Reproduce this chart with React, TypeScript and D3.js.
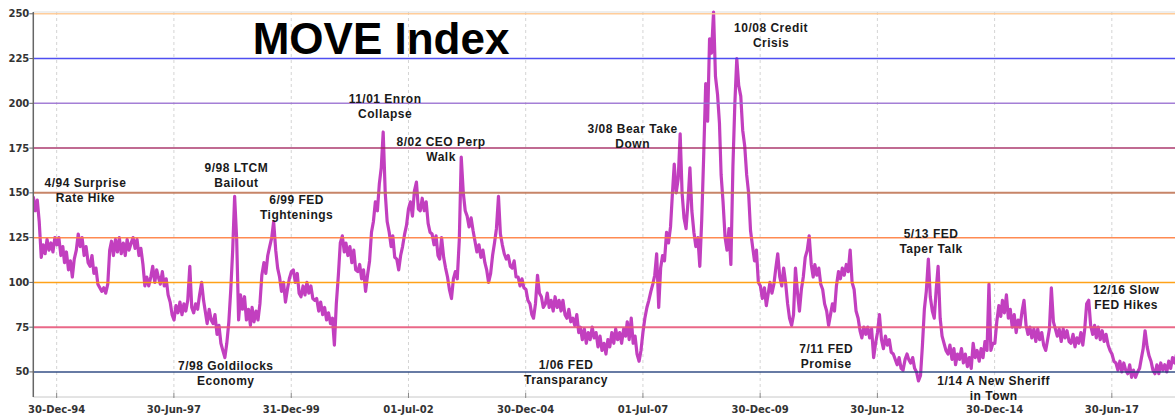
import React from "react";
import * as d3 from "d3";

// Semi-monthly MOVE index readings (1st and 16th of each month)
const move1994 = [148, 140, 146, 134, 114, 121, 116, 124, 118, 122, 117, 125]; // from July
const move1995 = [121, 125, 115, 120, 111, 117, 107, 112, 103, 113, 118, 127, 120, 125, 115, 120, 111, 109, 115, 105, 108, 99, 97, 95];
const move1996 = [97, 94, 99, 118, 123, 115, 124, 117, 125, 116, 122, 115, 124, 118, 122, 125, 119, 124, 115, 119, 110, 98, 103, 98];
const move1997 = [103, 109, 100, 107, 103, 99, 106, 98, 102, 93, 89, 82, 79, 87, 83, 89, 82, 88, 84, 90, 109, 86, 83, 88];
const move1998 = [85, 93, 100, 90, 84, 77, 85, 79, 77, 82, 71, 76, 66, 62, 58, 66, 78, 96, 118, 148, 124, 79, 93, 85];
const move1999 = [92, 79, 85, 76, 86, 78, 84, 79, 88, 104, 111, 105, 115, 120, 125, 134, 118, 108, 103, 95, 100, 89, 96, 102];
const move2000 = [106, 107, 100, 105, 94, 92, 98, 93, 100, 94, 98, 91, 90, 91, 84, 89, 82, 86, 79, 83, 77, 80, 65, 88];
const move2001 = [104, 122, 126, 117, 122, 115, 120, 111, 118, 107, 106, 110, 102, 107, 95, 104, 112, 128, 134, 145, 140, 155, 164, 184];
const move2002 = [150, 134, 128, 120, 126, 114, 113, 107, 115, 120, 127, 132, 141, 145, 137, 151, 156, 141, 140, 147, 140, 145, 133, 128];
const move2003 = [127, 121, 126, 115, 113, 125, 114, 108, 103, 96, 91, 102, 106, 102, 124, 170, 150, 140, 137, 131, 136, 129, 123, 117];
const move2004 = [121, 114, 118, 111, 107, 100, 105, 115, 122, 130, 148, 127, 121, 116, 113, 115, 109, 108, 112, 103, 103, 98, 102, 97];
const move2005 = [96, 90, 88, 82, 80, 88, 104, 94, 92, 86, 88, 94, 86, 90, 84, 92, 86, 90, 84, 90, 82, 80, 85, 78];
const move2006 = [80, 76, 82, 72, 75, 68, 74, 66, 72, 68, 75, 69, 72, 64, 70, 62, 66, 60, 68, 64, 72, 66, 74, 68];
const move2007 = [72, 66, 74, 70, 78, 68, 80, 66, 70, 60, 56, 62, 72, 80, 86, 90, 95, 99, 104, 116, 86, 108, 115, 112];
const move2008 = [128, 122, 131, 150, 166, 150, 158, 183, 150, 136, 130, 145, 164, 140, 128, 120, 125, 109, 135, 170, 211, 190, 236, 228];
const move2009 = [251, 215, 205, 189, 160, 145, 125, 118, 130, 110, 165, 200, 225, 210, 204, 185, 176, 160, 150, 129, 120, 112, 118, 100];
const move2010 = [98, 91, 97, 87, 93, 100, 94, 99, 108, 116, 103, 98, 108, 100, 88, 80, 76, 82, 108, 95, 84, 96, 103, 114];
const move2011 = [118, 126, 110, 103, 110, 104, 108, 99, 96, 88, 84, 76, 82, 88, 84, 98, 106, 102, 108, 104, 110, 106, 118, 100];
const move2012 = [96, 84, 80, 73, 69, 75, 71, 75, 69, 74, 58, 66, 72, 82, 68, 63, 70, 65, 68, 61, 60, 57, 54, 58];
const move2013 = [52, 51, 57, 60, 57, 55, 58, 52, 50, 45, 48, 65, 85, 95, 113, 92, 84, 80, 96, 109, 80, 70, 66, 62];
const move2014 = [60, 65, 57, 63, 54, 60, 57, 63, 55, 60, 53, 58, 52, 66, 58, 62, 56, 63, 58, 67, 62, 99, 62, 66];
const move2015 = [66, 78, 87, 81, 90, 83, 93, 80, 85, 75, 82, 72, 79, 75, 84, 90, 76, 71, 75, 69, 74, 67, 74, 68];
const move2016 = [72, 65, 62, 68, 74, 97, 78, 74, 70, 74, 67, 74, 69, 73, 67, 66, 71, 64, 69, 66, 72, 65, 74, 88];
const move2017 = [90, 76, 71, 76, 69, 75, 68, 73, 67, 71, 65, 62, 60, 56, 55, 51, 56, 50, 55, 51, 49, 54, 47, 51];
const move2018 = [47, 50, 52, 58, 63, 73, 64, 59, 56, 51, 49, 54, 49, 55, 51, 54, 50, 56, 52, 58, 55, 60, 57];

const yearBlocks: [number, number, number[]][] = [
  [1994, 6, move1994], [1995, 0, move1995], [1996, 0, move1996], [1997, 0, move1997],
  [1998, 0, move1998], [1999, 0, move1999], [2000, 0, move2000], [2001, 0, move2001],
  [2002, 0, move2002], [2003, 0, move2003], [2004, 0, move2004], [2005, 0, move2005],
  [2006, 0, move2006], [2007, 0, move2007], [2008, 0, move2008], [2009, 0, move2009],
  [2010, 0, move2010], [2011, 0, move2011], [2012, 0, move2012], [2013, 0, move2013],
  [2014, 0, move2014], [2015, 0, move2015], [2016, 0, move2016], [2017, 0, move2017],
  [2018, 0, move2018],
];

const xTickDates = ["1994-12-30", "1997-06-30", "1999-12-31", "2002-07-01", "2004-12-30", "2007-07-01", "2009-12-30", "2012-06-30", "2014-12-30", "2017-06-30"];
const xTickLabels = ["30-Dec-94", "30-Jun-97", "31-Dec-99", "01-Jul-02", "30-Dec-04", "01-Jul-07", "30-Dec-09", "30-Jun-12", "30-Dec-14", "30-Jun-17"];
const yTicks = [50, 75, 100, 125, 150, 175, 200, 225, 250];
const yGridColors = ["#1f3d7a", "#e8587c", "#ff9900", "#ff7f40", "#c27858", "#a3245f", "#9b72d2", "#3c3cf0", "#ffc890"];

const annLines = [
  ["4/94 Surprise", "Rate Hike"],
  ["9/98 LTCM", "Bailout"],
  ["6/99 FED", "Tightenings"],
  ["11/01 Enron", "Collapse"],
  ["8/02 CEO Perp", "Walk"],
  ["3/08 Bear Take", "Down"],
  ["10/08 Credit", "Crisis"],
  ["7/98 Goldilocks", "Economy"],
  ["1/06 FED", "Transparancy"],
  ["7/11 FED", "Promise"],
  ["5/13 FED", "Taper Talk"],
  ["1/14 A New Sheriff", "in Town"],
  ["12/16 Slow", "FED Hikes"],
];
const annDates = ["1995-08-11", "1998-10-30", "2000-02-11", "2001-12-31", "2003-03-12", "2007-04-12", "2010-03-25", "1998-08-08", "2005-11-09", "2011-05-29", "2013-08-22", "2014-12-23", "2017-10-19"];
const annValues = [153.4, 161.8, 143.6, 200, 176.2, 183.3, 240, 51.1, 51.5, 60.7, 124.6, 42.7, 93.4];

const titleText = "MOVE Index";
const titleDate = "1999-03-06";
const titleValue = 227.5;

const W = 1175;
const H = 415;

export default function App() {
  const parse = (s: string) => new Date(s + "T00:00:00Z");
  const series: { d: Date; v: number }[] = [];
  yearBlocks.forEach(([yr, m0, vals]) => {
    vals.forEach((v, i) => {
      series.push({ d: new Date(Date.UTC(yr, m0 + Math.floor(i / 2), i % 2 ? 16 : 1)), v });
    });
  });

  const x = d3.scaleUtc().domain([parse("1994-07-01"), parse("2018-11-04")]).range([33.3, 1175]);
  const y = d3.scaleLinear().domain([36, 251]).range([397, 12]);

  const line = d3.line<{ d: Date; v: number }>().x((p) => x(p.d)).y((p) => y(p.v));

  const font = "'Liberation Sans', Arial, Helvetica, sans-serif";
  const axisFont = "'DejaVu Sans', Verdana, sans-serif";
  const x0 = x.range()[0];
  const yTop = y.range()[1];
  const yBot = y.range()[0];

  return (
    <svg width={W} height={H} style={{ position: "absolute", left: 0, top: 0, background: "#fff" }}>
      <defs>
        <clipPath id="plot">
          <rect x={x0} y={yTop - 4} width={W - x0} height={yBot - yTop + 4} />
        </clipPath>
      </defs>
      <line x1={x0} x2={W} y1={yTop} y2={yTop} stroke="#dddddd" strokeWidth={1} />
      {xTickDates.map((s, i) => (
        <line key={"vg" + i} x1={x(parse(s))} x2={x(parse(s))} y1={yTop} y2={yBot} stroke="#d4d4d4" strokeWidth={1} strokeDasharray="3,3" />
      ))}
      <path d={line(series) || ""} fill="none" stroke="#c23fbf" strokeWidth={3.2} strokeLinejoin="round" clipPath="url(#plot)" />
      {yTicks.map((t, i) => (
        <line key={"hg" + i} x1={x0} x2={W} y1={y(t)} y2={y(t)} stroke={yGridColors[i]} strokeWidth={t === 150 || t === 75 ? 2 : 1.5} opacity={0.9} />
      ))}
      <line x1={x0} x2={W} y1={yBot} y2={yBot} stroke="#c8c8c8" strokeWidth={1} />
      {xTickDates.map((s, i) => (
        <g key={"xt" + i} transform={`translate(${x(parse(s))},0)`}>
          <line y1={yBot - 4} y2={yBot + 1} stroke="#888" strokeWidth={1} />
          <text y={yBot + 16} textAnchor="middle" fontFamily={axisFont} fontWeight="bold" fontSize={10} fill="#333">
            {xTickLabels[i]}
          </text>
        </g>
      ))}
      <line x1={x0} x2={x0} y1={yTop} y2={yBot} stroke="#666" strokeWidth={1.5} />
      {yTicks.map((t, i) => (
        <g key={"yt" + i} transform={`translate(0,${y(t)})`}>
          <line x1={x0 - 4} x2={x0} stroke="#666" strokeWidth={1} />
          <text x={x0 - 4} dy="0.35em" textAnchor="end" fontFamily={axisFont} fontWeight="bold" fontSize={10} fill="#333">
            {t}
          </text>
        </g>
      ))}
      <text x={x(parse(titleDate))} y={y(titleValue)} fontFamily={font} fontWeight="bold" fontSize={44} fill="#000">
        {titleText}
      </text>
      {annLines.map((ls, i) => (
        <text key={"an" + i} x={x(parse(annDates[i]))} y={y(annValues[i])} textAnchor="middle" fontFamily={font} fontWeight="bold" fontSize={12} letterSpacing={0.5} fill="#1a1a1a">
          {ls.map((l, j) => (
            <tspan key={j} x={x(parse(annDates[i]))} dy={j === 0 ? 0 : 15}>
              {l}
            </tspan>
          ))}
        </text>
      ))}
    </svg>
  );
}
